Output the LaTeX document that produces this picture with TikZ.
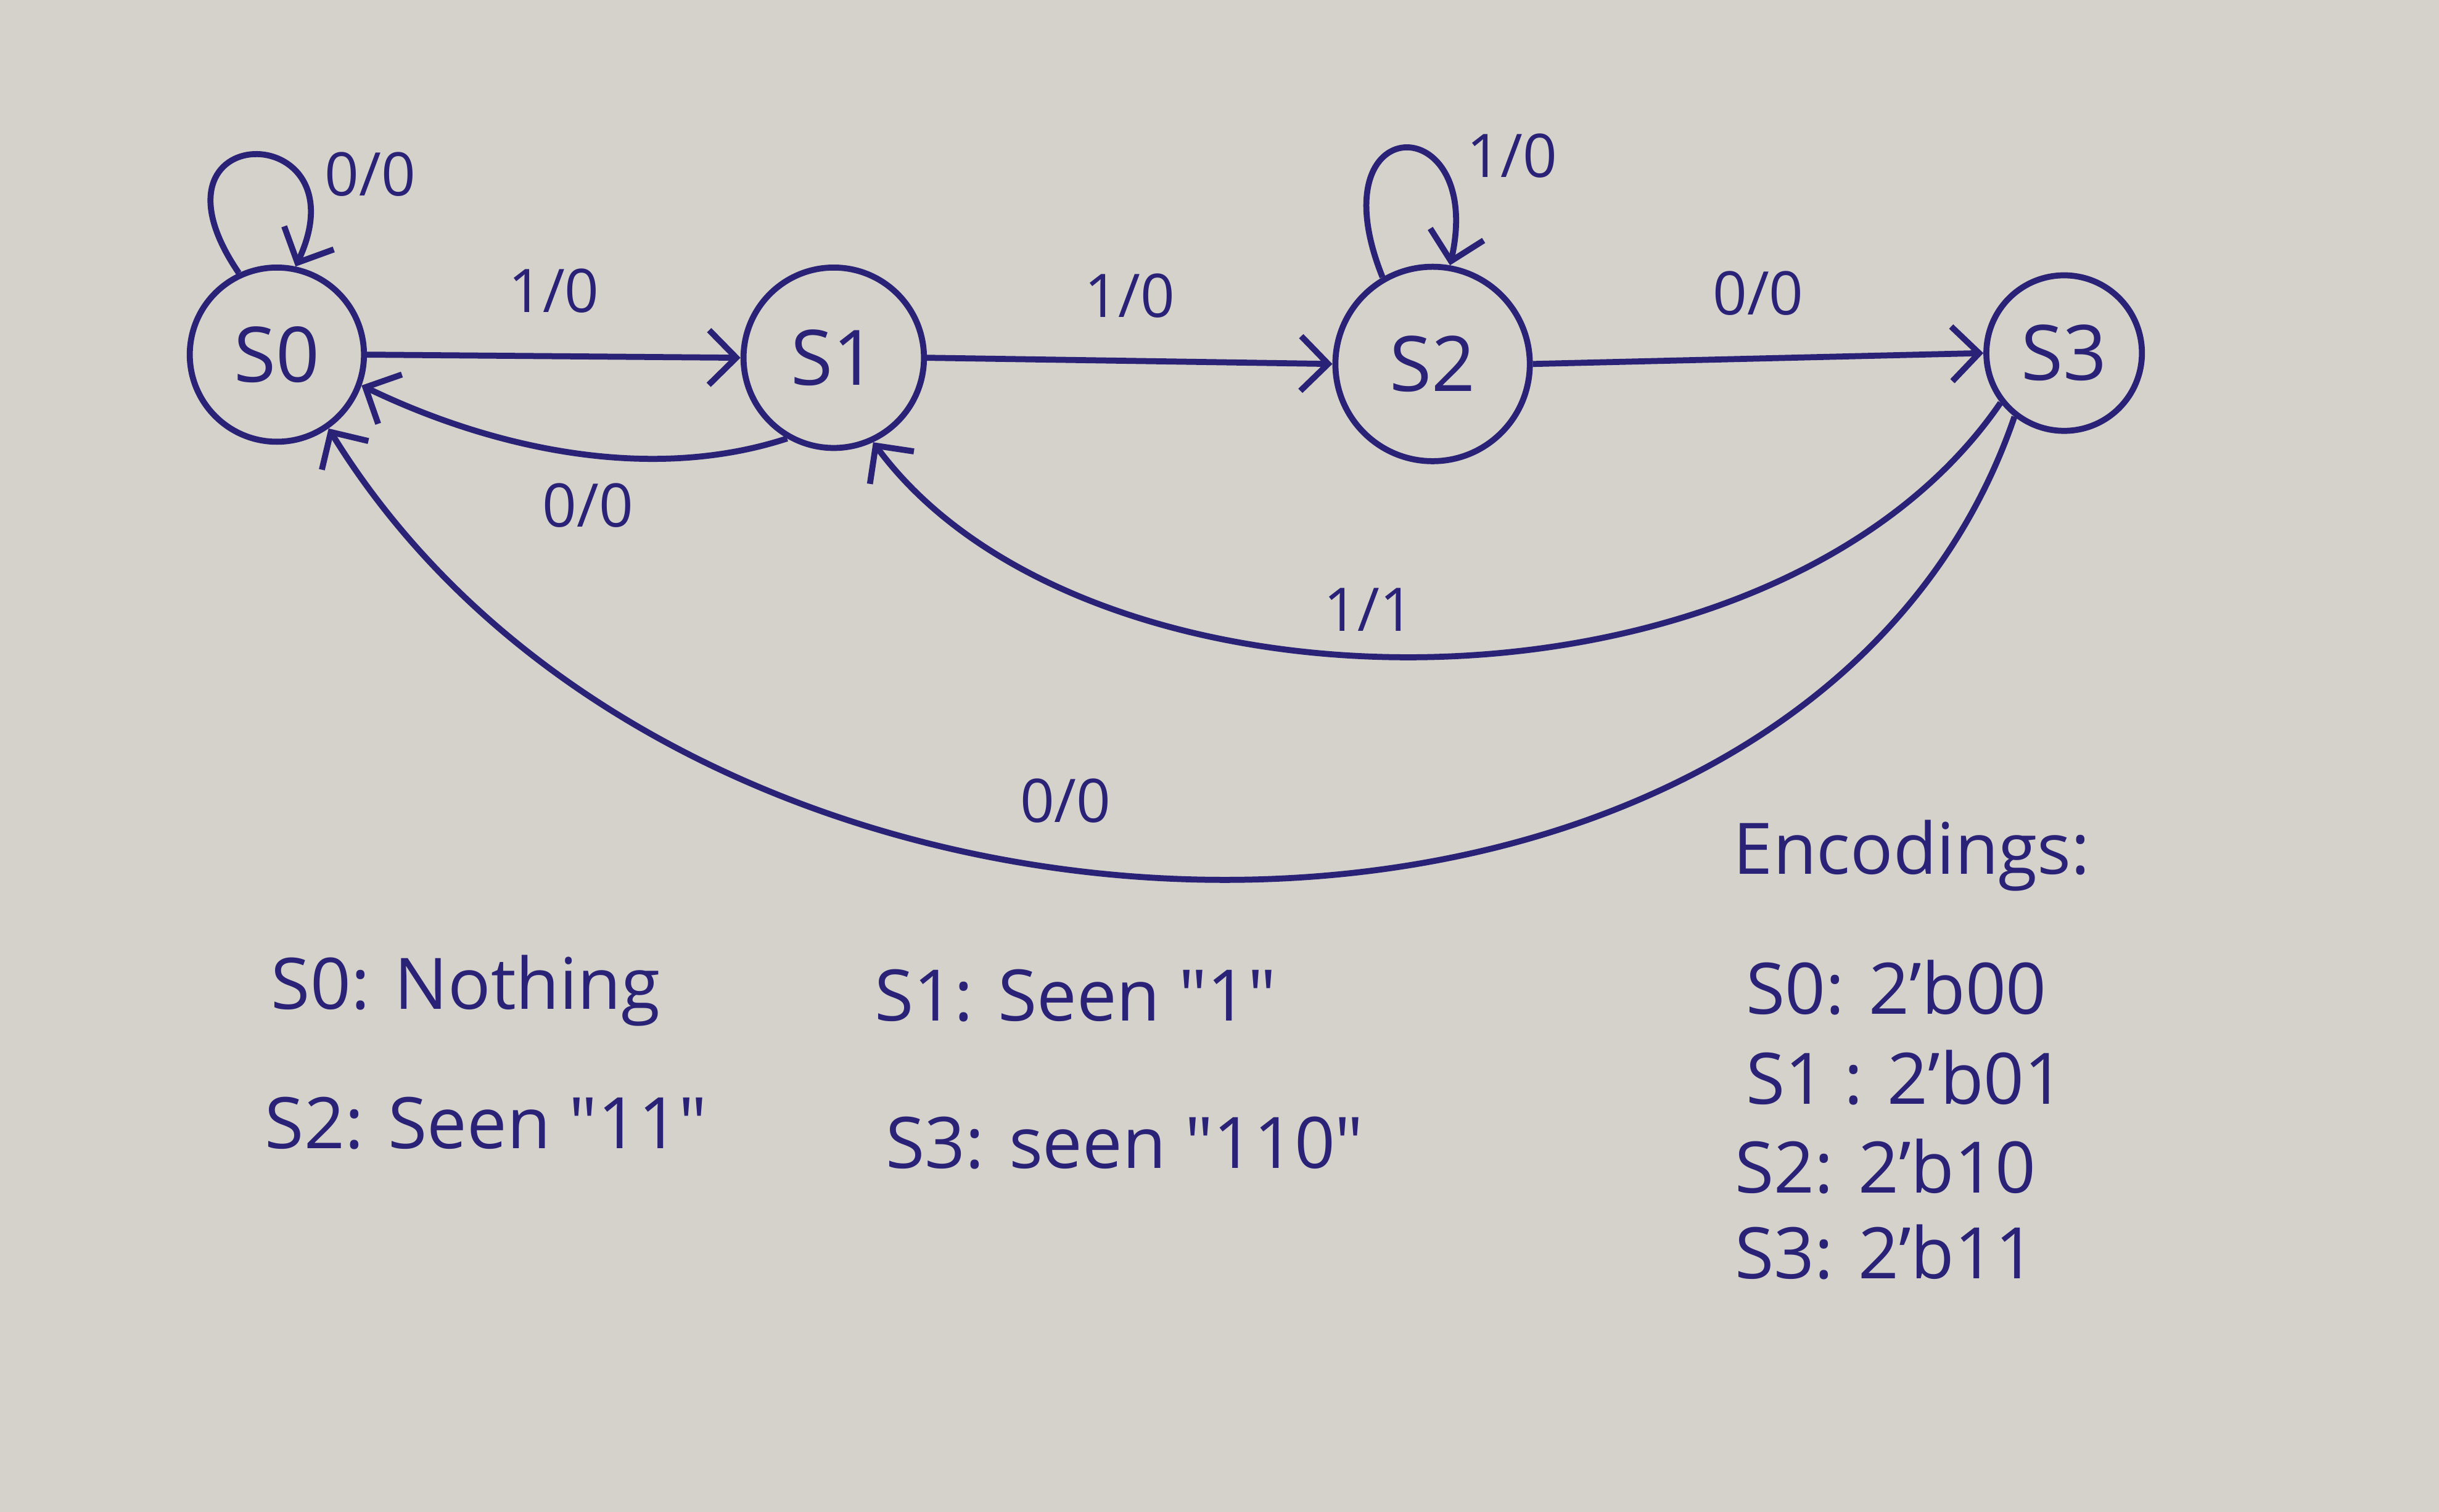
\documentclass[tikz,border=0pt]{standalone}
\usepackage{xcolor}
\usepackage{fontspec}
\setmainfont{Open Sans}
\usepackage{tikz}
\usetikzlibrary{arrows.meta}

\definecolor{paper}{RGB}{212,210,202}
\definecolor{ink}{RGB}{42,34,118}

\begin{document}
\begin{tikzpicture}[
    ink/.style={draw=ink, line width=1.1pt},
    state/.style={ink, circle, text=ink, font=\fontsize{14}{16}\selectfont},
    lbl/.style={text=ink, font=\fontsize{11}{13}\selectfont},
    note/.style={text=ink, anchor=west, font=\fontsize{13}{15}\selectfont},
    >={Straight Barb[length=5pt,width=10pt]}]
                \fill[paper] (0,0) rectangle (15.68,-9.72);
                \useasboundingbox (0,0) rectangle (15.68,-9.72);
                % states
                \node[state, minimum size=1.12cm] (s0) at (1.78,-2.28) {S0};
                \node[state, minimum size=1.16cm] (s1) at (5.36,-2.30) {S1};
                \node[state, minimum size=1.25cm] (s2) at (9.21,-2.34) {S2};
                \node[state, minimum size=1.00cm] (s3) at (13.27,-2.27) {S3};
                % transitions
                \draw[->, ink] (s0.115) .. controls (0.85,-0.75) and (2.35,-0.75) .. (s0.78);
                \node[lbl] (l00) at (2.38,-1.12) {0/0};
                \draw[->, ink] (s0.east) -- (s1.west) node[lbl, midway, above=4pt] (l01) {1/0};
                \draw[->, ink] (s1.240) .. controls (4.2,-3.1) and (3.2,-2.9) .. (s0.-20);
                \node[lbl] (l10) at (3.78,-3.25) {0/0};
                \draw[->, ink] (s1.east) -- (s2.west) node[lbl, midway, above=4pt] (l12) {1/0};
                \draw[->, ink] (s2.120) .. controls (8.45,-0.69) and (9.55,-0.69) .. (s2.80);
                \node[lbl] (l22) at (9.72,-1.0) {1/0};
                \draw[->, ink] (s2.east) -- (s3.west) node[lbl, midway, above=4pt] (l23) {0/0};
                \draw[->, ink] (s3.218) .. controls (11.4,-4.72) and (7.0,-4.72) .. (s1.295);
                \node[lbl] (l31) at (8.8,-3.92) {1/1};
                \draw[->, ink] (s3.232) .. controls (11.6,-6.63) and (4.5,-6.63) .. (s0.-55);
                \node[lbl] (l30) at (6.85,-5.15) {0/0};
                % meanings
                \node[note] (m0) at (1.62,-6.37) {S0: Nothing};
                \node[note] (m1) at (5.50,-6.40) {S1: Seen \textquotedbl1\textquotedbl};
                \node[note] (m2) at (1.58,-7.22) {S2: Seen \textquotedbl11\textquotedbl};
                \node[note] (m3) at (5.57,-7.35) {S3: seen \textquotedbl110\textquotedbl};
                % encodings
                \node[note] (enc) at (11.02,-5.50) {Encodings:};
                \node[note] (e0) at (11.10,-6.35) {S0: 2'b00};
                \node[note] (e1) at (11.10,-6.93) {S1 : 2'b01};
                \node[note] (e2) at (11.03,-7.50) {S2: 2'b10};
                \node[note] (e3) at (11.03,-8.05) {S3: 2'b11};
            \end{tikzpicture}
\end{document}
